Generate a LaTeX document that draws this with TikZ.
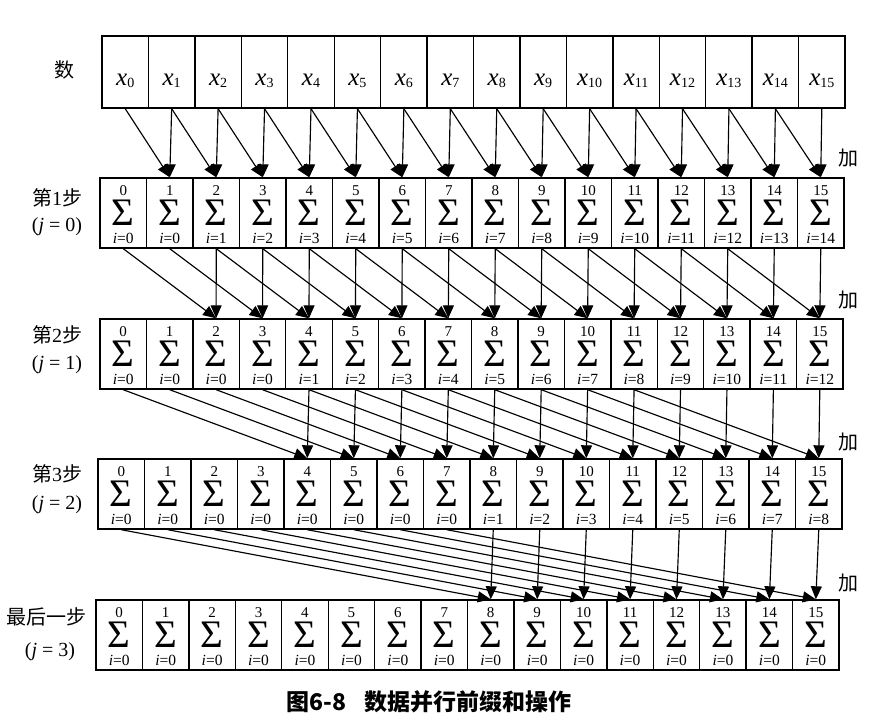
\documentclass[tikz,border=0pt]{standalone}
\usepackage{fontspec}
\setmainfont{Liberation Serif}
\newfontfamily\cjk{Noto Sans CJK SC}
\usetikzlibrary{arrows.meta}
\newcommand\sigcell[2]{%
  \vbox to 70pt{\offinterlineskip
    \hbox to 46pt{\hss\vbox to 17pt{\vfil\hbox{\fontsize{15}{15}\selectfont #1}}\hss}%
    \hbox to 46pt{\hss\vbox to 30pt{\vfil\hbox{\fontsize{39}{39}\selectfont Σ}}\hss}%
    \hbox to 46pt{\hss\vbox to 18pt{\vfil\hbox{\fontsize{15.5}{16}\selectfont\textit{i}=#2}}\hss}%
    \vfil}}
\begin{document}
\begin{tikzpicture}[x=1pt,y=-1pt,
  cell/.style={draw, line width=1.4pt, inner sep=0pt},
  arr/.style={line width=1.15pt, -{Triangle[length=13pt,width=11pt]}},
  txt/.style={inner sep=0pt, anchor=base},
  lab/.style={inner sep=0pt, font=\fontsize{20}{22}\selectfont},
  sig/.style={inner sep=0pt, anchor=north},
  xf/.style={txt, font=\fontsize{25}{25}\selectfont}]
\useasboundingbox (0,0) rectangle (875,726);
% rows of cells
\foreach \r/\L/\W/\T/\B in {0/102/46.44/36/108, 1/100/46.5/178/248, 2/100/46.44/319/389, 3/98/46.5/459/529, 4/96/46.44/600/670}{
  \pgfmathsetmacro\hh{\B-\T}
  \pgfmathsetmacro\cy{(\T+\B)/2}
  \foreach \i in {0,...,15}{
    \pgfmathsetmacro\cx{\L+(\i+0.5)*\W}
    \node[cell, minimum width=\W pt, minimum height=\hh pt] (c-\r-\i) at (\cx,\cy) {};
    \ifnum\r=0
      \node[xf] (x-\i) at (\cx,85) {\textit{x}\raisebox{-2pt}{\fontsize{14}{14}\selectfont\i}};
    \else
      \pgfmathtruncatemacro\lo{max(0,\i-2^\r+1)}
      \node[sig] (s-\r-\i) at (\cx,\T) {\sigcell{\i}{\lo}};
    \fi
  }
}
% arrows
\foreach \r/\d in {0/1,1/2,2/4,3/8}{
  \pgfmathtruncatemacro\rn{\r+1}
  \foreach \i in {\d,...,15}{
    \pgfmathtruncatemacro\j{\i-\d}
    \draw[arr] (c-\r-\i.south) -- (c-\rn-\i.north);
    \draw[arr] (c-\r-\j.south) -- (c-\rn-\i.north);
  }
}
% left labels
\node[lab] (l0) at (64,70) {\cjk 数};
\node[lab] (l1a) at (57,198) {{\cjk 第}1{\cjk 步}};
\node[lab] (l1b) at (57,227) {(\textit{j} = 0)};
\node[lab] (l2a) at (57,335) {{\cjk 第}2{\cjk 步}};
\node[lab] (l2b) at (57,365) {(\textit{j} = 1)};
\node[lab] (l3a) at (57,474) {{\cjk 第}3{\cjk 步}};
\node[lab] (l3b) at (57,505) {(\textit{j} = 2)};
\node[lab] (l4a) at (46,617) {\cjk 最后一步};
\node[lab] (l4b) at (50,652) {(\textit{j} = 3)};
% add labels
\foreach \y/\k in {158/1,300/2,442/3,583/4}{
  \node[lab] (add-\k) at (848,\y) {\cjk 加};
}
% caption
\node[inner sep=0pt, font=\fontsize{23}{25}\selectfont\cjk\bfseries] (cap) at (429,702) {图6-8\hspace{0.8em}数据并行前缀和操作};
\end{tikzpicture}
\end{document}
